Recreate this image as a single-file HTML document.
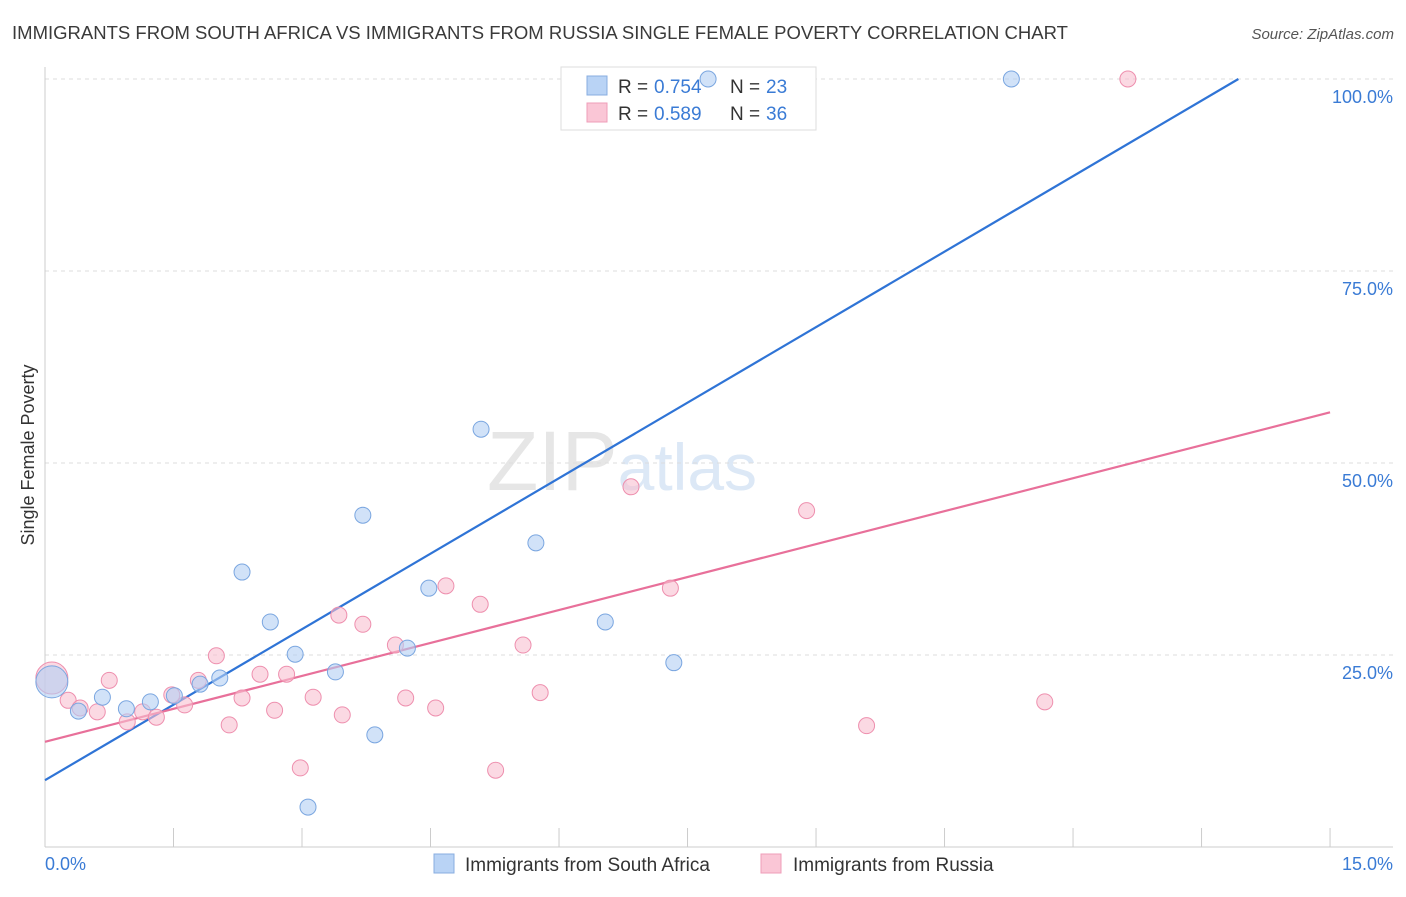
<!DOCTYPE html>
<html><head><meta charset="utf-8"><style>
body{margin:0;background:#fff;font-family:"Liberation Sans",sans-serif;}
svg text{font-family:"Liberation Sans",sans-serif;}
</style></head><body>
<svg id="chart" width="1406" height="892" xmlns="http://www.w3.org/2000/svg">
<text x="12" y="39" font-size="18" fill="#3a3a3a" textLength="1056" lengthAdjust="spacingAndGlyphs">IMMIGRANTS FROM SOUTH AFRICA VS IMMIGRANTS FROM RUSSIA SINGLE FEMALE POVERTY CORRELATION CHART</text>
<text x="1394" y="39" font-size="15" fill="#555" text-anchor="end" font-style="italic">Source: ZipAtlas.com</text>
<text x="622" y="490" font-size="84" fill="#e6e6e6" text-anchor="middle" font-family="Liberation Serif">ZIP<tspan fill="#dce8f6" font-family="Liberation Sans" font-size="66">atlas</tspan></text>
<g id="grid"></g>
<g id="axes"></g>
<g>
<rect x="561" y="67" width="255" height="63" fill="#fff" stroke="#ddd"/>
<rect x="587" y="76" width="20" height="19" fill="#b9d3f5" stroke="#88aee0"/>
<rect x="587" y="103" width="20" height="19" fill="#fac6d6" stroke="#ef9db8"/>
<text x="618" y="93" font-size="19" fill="#333">R = </text><text x="654" y="93" font-size="19" fill="#3a7bd5">0.754</text>
<text x="730" y="93" font-size="19" fill="#333">N = </text><text x="766" y="93" font-size="19" fill="#3a7bd5">23</text>
<text x="618" y="120" font-size="19" fill="#333">R = </text><text x="654" y="120" font-size="19" fill="#3a7bd5">0.589</text>
<text x="730" y="120" font-size="19" fill="#333">N = </text><text x="766" y="120" font-size="19" fill="#3a7bd5">36</text>
</g>
<g id="lines"></g>
<g id="pts"></g>
<text transform="translate(34,455) rotate(-90)" font-size="18" fill="#333" text-anchor="middle">Single Female Poverty</text>
<g>
<rect x="434" y="854" width="20" height="19" fill="#b9d3f5" stroke="#88aee0"/>
<text x="465" y="871" font-size="19" fill="#333">Immigrants from South Africa</text>
<rect x="761" y="854" width="20" height="19" fill="#fac6d6" stroke="#ef9db8"/>
<text x="793" y="871" font-size="19" fill="#333">Immigrants from Russia</text>
</g>
</svg>
<script>
const yTicks=[25,50,75,100];
const yTickLabels=["25.0%","50.0%","75.0%","100.0%"];
const xTicks=[0,1.5,3,4.5,6,7.5,9,10.5,12,13.5,15];
const blueX=[0.08,0.39,0.67,0.95,1.23,1.51,1.81,2.04,2.30,2.63,2.92,3.07,3.39,3.71,3.85,4.23,4.48,5.09,5.73,6.54,7.34,7.74,11.28];
const blueY=[21.5,17.7,19.5,18.0,18.9,19.7,21.2,22.0,35.8,29.3,25.1,5.2,22.8,43.2,14.6,25.9,33.7,54.4,39.6,29.3,24.0,100,100];
const pinkX=[0.08,0.27,0.41,0.61,0.75,0.96,1.14,1.30,1.48,1.63,1.79,2.00,2.15,2.30,2.51,2.68,2.82,2.98,3.13,3.43,3.47,3.71,4.09,4.21,4.56,4.68,5.08,5.26,5.58,5.78,6.84,7.30,8.89,9.59,11.67,12.64];
const pinkY=[22.0,19.1,18.1,17.6,21.7,16.3,17.6,16.9,19.8,18.5,21.7,24.9,15.9,19.4,22.5,17.8,22.5,10.3,19.5,30.2,17.2,29.0,26.3,19.4,18.1,34.0,31.6,10.0,26.3,20.1,46.9,33.7,43.8,15.8,18.9,100];
const blueLine=[[0,8.7],[13.93,100]];
const pinkLine=[[0,13.7],[15,56.6]];
const X=v=>45+v*85.67, Y=v=>847-v*7.68;
const NS="http://www.w3.org/2000/svg";
function mk(p,t,a){const e=document.createElementNS(NS,t);for(const k in a)e.setAttribute(k,a[k]);document.getElementById(p).appendChild(e);return e;}
yTicks.forEach((t,i)=>{
 const g=mk('grid','line',{x1:45,x2:1393,y1:Y(t),y2:Y(t),stroke:'#ddd','stroke-dasharray':'4,4'});
 
 
 const l=mk('axes','text',{x:1393,y:Y(t)+24,'font-size':18,fill:'#3a7bd5','text-anchor':'end'});
 l.textContent=yTickLabels[i];
 
 
});
mk('axes','line',{x1:45,x2:45,y1:67,y2:847,stroke:'#ccc'});
mk('axes','line',{x1:45,x2:1393,y1:847,y2:847,stroke:'#ccc'});
xTicks.forEach(t=>{const e=mk('axes','line',{x1:X(t),x2:X(t),y1:828,y2:847,stroke:'#ccc'});
 
 });
let a=mk('axes','text',{x:45,y:870,'font-size':18,fill:'#3a7bd5'});a.textContent='0.0%';


a=mk('axes','text',{x:1393,y:870,'font-size':18,fill:'#3a7bd5','text-anchor':'end'});a.textContent='15.0%';


function dots(xs,ys,fill,stroke,name){xs.forEach((x,i)=>{const c=mk('pts','circle',{cx:X(x),cy:Y(ys[i]),r:i===0?16:8,fill:fill,'fill-opacity':0.6,stroke:stroke,'stroke-width':1});
 
 });}
dots(pinkX,pinkY,'#f9bfd1','#ee8fae','point-russia');
dots(blueX,blueY,'#b3cff3','#7aa6e0','point-south-africa');
let l=mk('lines','line',{x1:X(blueLine[0][0]),y1:Y(blueLine[0][1]),x2:X(blueLine[1][0]),y2:Y(blueLine[1][1]),stroke:'#2f74d6','stroke-width':2.2});


l=mk('lines','line',{x1:X(pinkLine[0][0]),y1:Y(pinkLine[0][1]),x2:X(pinkLine[1][0]),y2:Y(pinkLine[1][1]),stroke:'#e8709a','stroke-width':2.2});


</script>
</body></html>
